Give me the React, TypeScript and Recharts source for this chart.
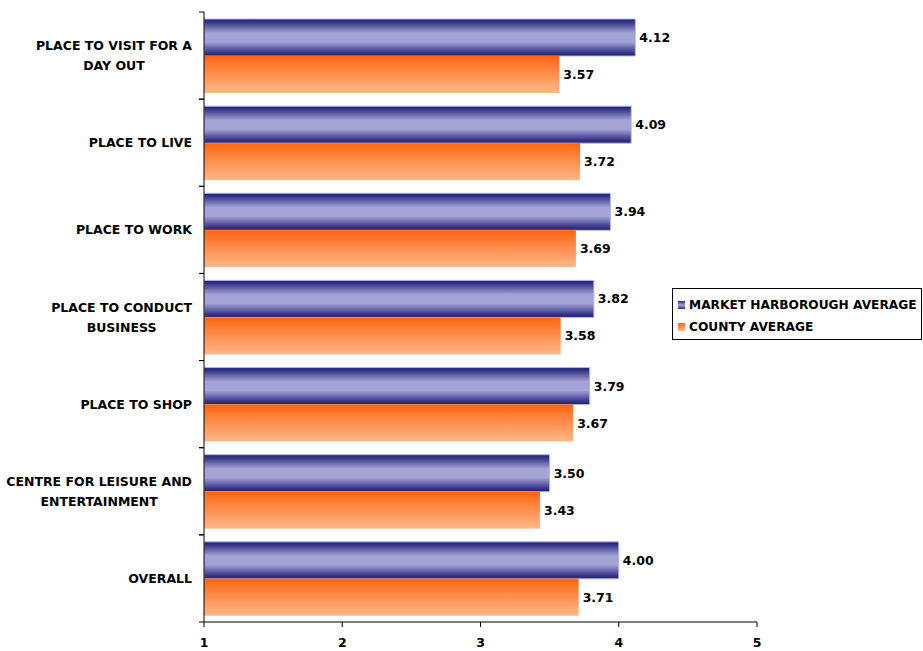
import React from "react";
import {
  BarChart,
  Bar,
  XAxis,
  YAxis,
  Legend,
  LabelList,
} from "recharts";

const categories = [
  ["PLACE TO VISIT FOR A", "DAY OUT"],
  ["PLACE TO LIVE"],
  ["PLACE TO WORK"],
  ["PLACE TO CONDUCT", "BUSINESS"],
  ["PLACE TO SHOP"],
  ["CENTRE FOR LEISURE AND", "ENTERTAINMENT"],
  ["OVERALL"],
];
const marketHarborough = [4.12, 4.09, 3.94, 3.82, 3.79, 3.5, 4.0];
const county = [3.57, 3.72, 3.69, 3.58, 3.67, 3.43, 3.71];
const xTicks = [1, 2, 3, 4, 5];

const data = categories.map((lines, i) => ({
  name: lines.join(" "),
  lines,
  mh: marketHarborough[i],
  county: county[i],
}));

const FONT = "'DejaVu Sans', Verdana, sans-serif";
const LABEL_SIZE = 12.5;
const WIDTH = 923;
const HEIGHT = 651;
const TOP = 12;
const BOTTOM = 29;
const AXIS_X = 204;
const BAND = (HEIGHT - TOP - BOTTOM) / categories.length;

// width of a label line, used to right-align the widest line of a wrapped label
let measureCtx: CanvasRenderingContext2D | null = null;
const measure = (text: string) => {
  if (!measureCtx) measureCtx = document.createElement("canvas").getContext("2d");
  if (!measureCtx) return text.length * 8;
  measureCtx.font = `bold ${LABEL_SIZE}px ${FONT}`;
  return measureCtx.measureText(text).width;
};

const CategoryTick = (props: any) => {
  const { y, payload, index } = props;
  const lines: string[] = data[payload.index ?? index]?.lines ?? [payload.value];
  const startY = y - ((lines.length - 1) * 20) / 2;
  const right = 192;
  const widest = Math.max(...lines.map(measure));
  const centerX = right - widest / 2;
  return (
    <g>
      <line x1={AXIS_X - 5} x2={AXIS_X} y1={y - BAND / 2} y2={y - BAND / 2} stroke="#000" />
      <line x1={AXIS_X - 5} x2={AXIS_X} y1={y + BAND / 2} y2={y + BAND / 2} stroke="#000" />
      {lines.map((l, i) => (
        <text
          key={i}
          x={centerX}
          y={startY + i * 20}
          textAnchor="middle"
          dominantBaseline="central"
          fontFamily={FONT}
          fontWeight="bold"
          fontSize={LABEL_SIZE}
          fill="#000"
        >
          {l}
        </text>
      ))}
    </g>
  );
};

const LegendBox = () => (
  <div
    style={{
      border: "1px solid #000",
      background: "#fff",
      width: 250,
      height: 52,
      boxSizing: "border-box",
      padding: "5px 0 0 4px",
      fontFamily: FONT,
      fontWeight: "bold",
      fontSize: 12.2,
      color: "#000",
      textAlign: "left",
      whiteSpace: "nowrap",
    }}
  >
    {[
      { label: "MARKET HARBOROUGH AVERAGE", fill: "url(#mhLegend)" },
      { label: "COUNTY AVERAGE", fill: "url(#countyLegend)" },
    ].map((item) => (
      <div key={item.label} style={{ display: "flex", alignItems: "center", height: 22 }}>
        <svg width={12} height={10}>
          <rect x={1} y={1} width={7} height={8} fill={item.fill} />
        </svg>
        <span style={{ marginLeft: 0 }}>{item.label}</span>
      </div>
    ))}
  </div>
);

export default function App() {
  return (
    <div style={{ position: "absolute", left: 0, top: 0, background: "#fff" }}>
      <svg width={0} height={0} style={{ position: "absolute" }}>
        <defs>
          <linearGradient id="mhLegend" x1="0" y1="0" x2="0" y2="1">
            <stop offset="0%" stopColor="#2a2a80" />
            <stop offset="50%" stopColor="#a4a4d6" />
            <stop offset="100%" stopColor="#2a2a80" />
          </linearGradient>
          <linearGradient id="countyLegend" x1="0" y1="0" x2="0" y2="1">
            <stop offset="0%" stopColor="#ff6414" />
            <stop offset="100%" stopColor="#ffb584" />
          </linearGradient>
        </defs>
      </svg>
      <BarChart
        width={WIDTH}
        height={HEIGHT}
        data={data}
        layout="vertical"
        margin={{ top: TOP, right: 166, bottom: 0, left: 0 }}
        barGap={0}
      >
        <defs>
          <linearGradient id="mhGrad" x1="0" y1="0" x2="0" y2="1">
            <stop offset="0%" stopColor="#1c1c72" />
            <stop offset="10%" stopColor="#3a3a8c" />
            <stop offset="38%" stopColor="#a3a3d5" />
            <stop offset="62%" stopColor="#a3a3d5" />
            <stop offset="90%" stopColor="#3a3a8c" />
            <stop offset="100%" stopColor="#1c1c72" />
          </linearGradient>
          <linearGradient id="countyGrad" x1="0" y1="0" x2="0" y2="1">
            <stop offset="0%" stopColor="#ff6410" />
            <stop offset="25%" stopColor="#ff7a30" />
            <stop offset="100%" stopColor="#ffb888" />
          </linearGradient>
        </defs>
        <XAxis
          type="number"
          domain={[1, 5]}
          ticks={xTicks}
          allowDataOverflow
          height={BOTTOM}
          stroke="#000"
          tickSize={5}
          tick={{ fill: "#000", fontFamily: FONT, fontWeight: "bold", fontSize: LABEL_SIZE, dy: 9 }}
        />
        <YAxis
          type="category"
          dataKey="name"
          width={AXIS_X}
          stroke="#000"
          tickLine={false}
          interval={0}
          tick={<CategoryTick />}
        />
        <Legend
          layout="horizontal"
          align="center"
          verticalAlign="middle"
          content={<LegendBox />}
          wrapperStyle={{ left: 672, top: 288, width: 250, right: "auto", bottom: "auto" }}
        />
        <Bar dataKey="mh" fill="url(#mhGrad)" stroke="#b8b8e0" strokeWidth={1} barSize={37} isAnimationActive={false}>
          <LabelList
            dataKey="mh"
            position="right"
            offset={4}
            formatter={(v: any) => Number(v).toFixed(2)}
            style={{ fill: "#000", fontFamily: FONT, fontWeight: "bold", fontSize: LABEL_SIZE }}
          />
        </Bar>
        <Bar dataKey="county" fill="url(#countyGrad)" barSize={37} isAnimationActive={false}>
          <LabelList
            dataKey="county"
            position="right"
            offset={4}
            formatter={(v: any) => Number(v).toFixed(2)}
            style={{ fill: "#000", fontFamily: FONT, fontWeight: "bold", fontSize: LABEL_SIZE }}
          />
        </Bar>
      </BarChart>
    </div>
  );
}
